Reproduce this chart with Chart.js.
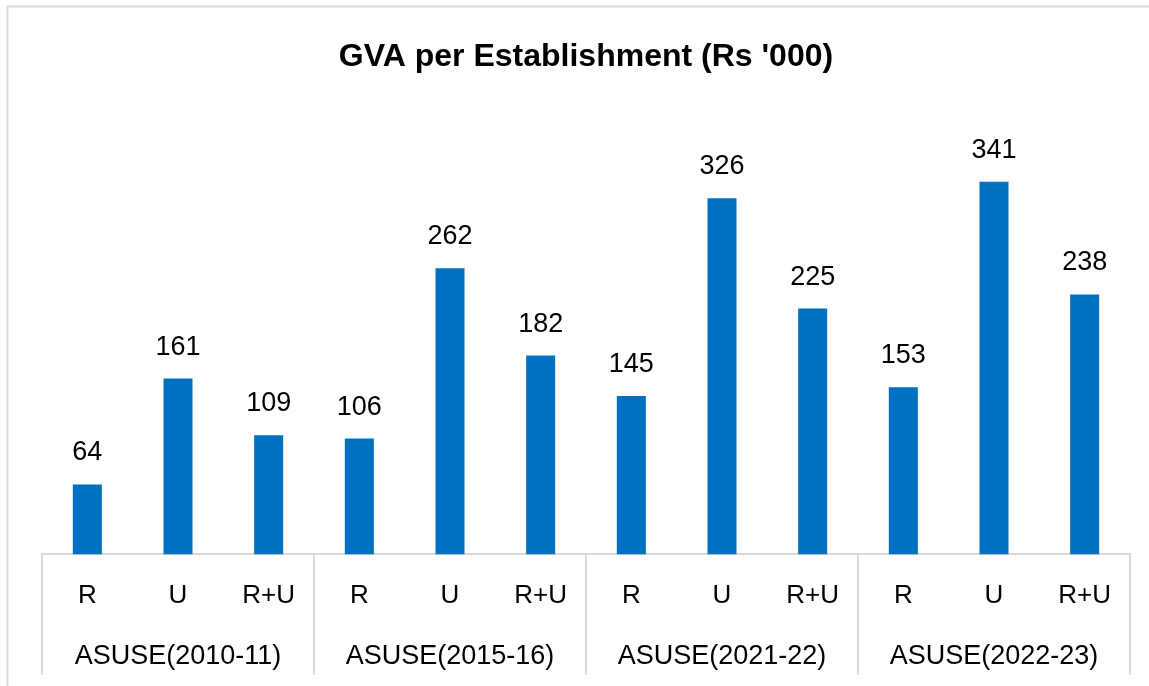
<!DOCTYPE html>
<html>
<head>
<meta charset="utf-8">
<script src="https://cdn.jsdelivr.net/npm/chart.js@4"></script>
<style>
  html, body { margin: 0; padding: 0; background: #ffffff; }
  #wrap { width: 1149px; height: 686px; position: relative; }
</style>
</head>
<body>
<div id="wrap"><canvas id="c" width="1149" height="686"></canvas></div>
<script>
const categories = ["R", "U", "R+U", "R", "U", "R+U", "R", "U", "R+U", "R", "U", "R+U"];
const groups = ["ASUSE(2010-11)", "ASUSE(2015-16)", "ASUSE(2021-22)", "ASUSE(2022-23)"];
const values = [64, 161, 109, 106, 262, 182, 145, 326, 225, 153, 341, 238];
const titleText = "GVA per Establishment (Rs '000)";

const FONT = "'Liberation Sans', Arial, sans-serif";

const framePlugin = {
  id: 'frame',
  beforeDraw(chart) {
    const ctx = chart.ctx;
    ctx.save();
    ctx.fillStyle = '#ffffff';
    ctx.fillRect(0, 0, chart.width, chart.height);
    ctx.strokeStyle = '#d9d9d9';
    ctx.lineWidth = 2;
    ctx.strokeRect(7.5, 6.5, 1400, 1000);
    ctx.restore();
  }
};

const separatorPlugin = {
  id: 'separators',
  afterDraw(chart) {
    const xs = chart.scales.x;
    const x2 = chart.scales.x2;
    const ctx = chart.ctx;
    const n = categories.length;
    const per = n / groups.length;
    const yEnd = Math.min(x2.bottom, chart.height - 11);
    ctx.save();
    ctx.strokeStyle = '#d9d9d9';
    ctx.lineWidth = 2;
    for (let g = 0; g <= groups.length; g++) {
      const i = g * per;
      let x;
      if (i === 0) x = chart.chartArea.left;
      else if (i === n) x = chart.chartArea.right;
      else x = (xs.getPixelForValue(i - 1) + xs.getPixelForValue(i)) / 2;
      ctx.beginPath();
      ctx.moveTo(x, chart.chartArea.bottom);
      ctx.lineTo(x, yEnd);
      ctx.stroke();
    }
    ctx.restore();
  }
};

const valueLabelPlugin = {
  id: 'valueLabels',
  afterDatasetsDraw(chart) {
    const ctx = chart.ctx;
    const meta = chart.getDatasetMeta(0);
    ctx.save();
    ctx.font = "27px " + FONT;
    ctx.fillStyle = '#000000';
    ctx.textAlign = 'center';
    ctx.textBaseline = 'alphabetic';
    meta.data.forEach((bar, i) => {
      ctx.fillText(String(values[i]), bar.x, bar.y - 24);
    });
    ctx.restore();
  }
};

new Chart(document.getElementById('c'), {
  type: 'bar',
  data: {
    labels: categories,
    datasets: [{
      data: values,
      backgroundColor: '#0070C0',
      borderWidth: 0,
      barPercentage: 0.32,
      categoryPercentage: 1.0
    }]
  },
  options: {
    responsive: false,
    animation: false,
    devicePixelRatio: 1,
    layout: { padding: { left: 42, right: 19, top: 0, bottom: 10 } },
    plugins: {
      legend: { display: false },
      tooltip: { enabled: false },
      title: {
        display: true,
        text: titleText,
        color: '#000000',
        font: { family: FONT, size: 32, weight: 'bold', lineHeight: 1.2 },
        padding: { top: 38, bottom: 41 }
      }
    },
    scales: {
      y: {
        display: false,
        min: 0,
        max: 400
      },
      x: {
        position: 'bottom',
        grid: { display: false, drawTicks: false },
        border: { display: true, color: '#d9d9d9', width: 2 },
        ticks: {
          color: '#000000',
          font: { family: FONT, size: 26, lineHeight: 1.2 },
          padding: 26,
          maxRotation: 0,
          autoSkip: false
        }
      },
      x2: {
        type: 'category',
        position: 'bottom',
        labels: groups,
        offset: true,
        grid: { display: false, drawTicks: false },
        border: { display: false },
        ticks: {
          color: '#000000',
          font: { family: FONT, size: 27, lineHeight: 1.2 },
          padding: 3,
          maxRotation: 0,
          autoSkip: false
        }
      }
    }
  },
  plugins: [framePlugin, separatorPlugin, valueLabelPlugin]
});
</script>
</body>
</html>
